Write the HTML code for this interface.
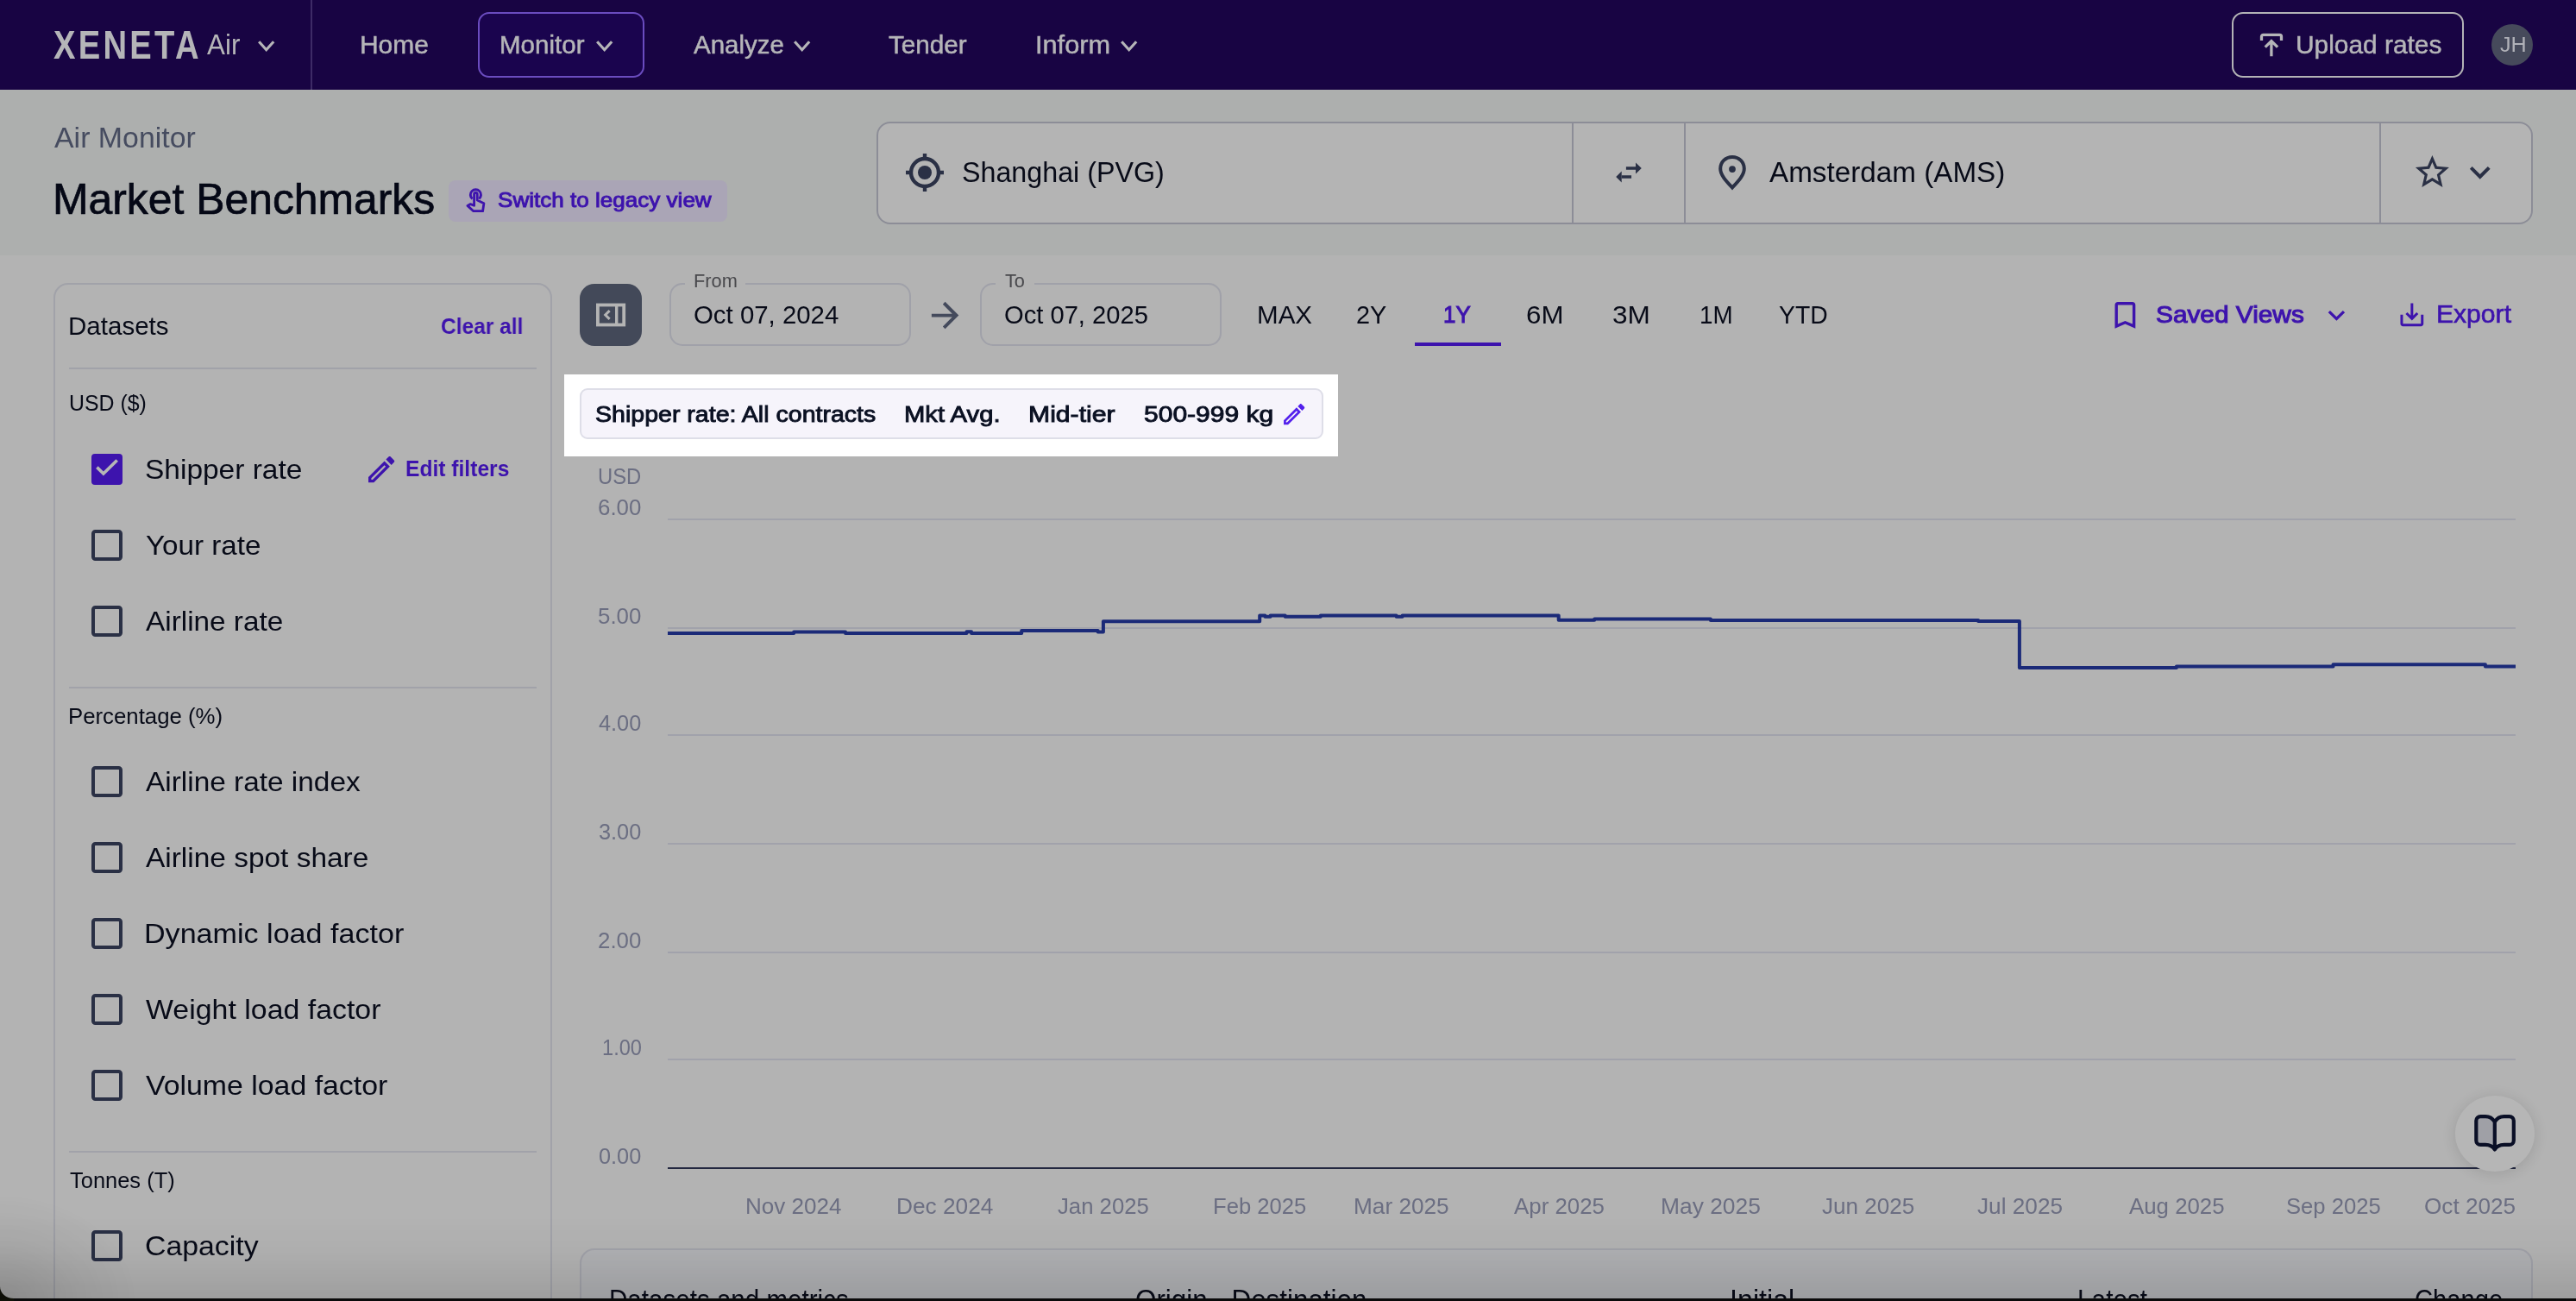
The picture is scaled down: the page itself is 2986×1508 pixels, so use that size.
<!DOCTYPE html>
<html lang="en"><head><meta charset="utf-8"><title>Xeneta Air - Market Benchmarks</title>
<style>
html,body{margin:0;padding:0;background:#b3b3b3;width:2986px;height:1508px;overflow:hidden;}
body{width:2986px;height:1508px;position:relative;overflow:hidden;font-family:"Liberation Sans",sans-serif;}
#app div,#app svg,#app span.t{position:absolute;box-sizing:border-box;}
#app{position:absolute;left:0;top:0;width:2986px;height:1508px;overflow:hidden;will-change:transform;}
#app nav,#app header,#app section,#app aside,#app main,#app footer{display:contents;}
#app span.t{line-height:1;white-space:nowrap;transform-origin:0 0;}
</style></head><body><div id="app">

<nav class="topbar"><div style="left:0px;top:0px;width:2986px;height:104px;background:#180443;"></div><div style="left:360px;top:0px;width:2px;height:104px;background:#3d2b66;"></div><span class="t" style="left:62.00px;top:29.00px;font-size:46.5px;color:#b5b5b8;font-weight:700;transform:scaleX(0.8212);letter-spacing:4px;">XENETA</span><span class="t" style="left:239.50px;top:35.50px;font-size:32.5px;color:#b5b5b8;transform:scaleX(0.9650);">Air</span><svg style="left:296.8px;top:45.05px" width="23.4" height="15.9" viewBox="0 0 23.4 15.9" fill="none"><path d="M3.2 3.2L11.7 12.7L20.2 3.2" stroke="#b5b5b8" stroke-width="3.2" stroke-linecap="butt" stroke-linejoin="miter"/></svg><span class="t" style="left:417.46px;top:37.00px;font-size:29.3px;color:#b5b5b8;transform:scaleX(1.0220);-webkit-text-stroke:0.5px #b5b5b8;">Home</span><div style="left:554px;top:14px;width:193px;height:76px;border:2px solid #6a4cbf;border-radius:13px;background:#1a044e;"></div><span class="t" style="left:578.78px;top:37.00px;font-size:29.3px;color:#b5b5b8;transform:scaleX(1.0080);-webkit-text-stroke:0.5px #b5b5b8;">Monitor</span><svg style="left:689.3px;top:45.05px" width="23.4" height="15.9" viewBox="0 0 23.4 15.9" fill="none"><path d="M3.2 3.2L11.7 12.7L20.2 3.2" stroke="#b5b5b8" stroke-width="3.2" stroke-linecap="butt" stroke-linejoin="miter"/></svg><span class="t" style="left:804.00px;top:37.00px;font-size:29.3px;color:#b5b5b8;transform:scaleX(1.0055);-webkit-text-stroke:0.5px #b5b5b8;">Analyze</span><svg style="left:917.5999999999999px;top:45.05px" width="23.4" height="15.9" viewBox="0 0 23.4 15.9" fill="none"><path d="M3.2 3.2L11.7 12.7L20.2 3.2" stroke="#b5b5b8" stroke-width="3.2" stroke-linecap="butt" stroke-linejoin="miter"/></svg><span class="t" style="left:1030.00px;top:37.00px;font-size:29.3px;color:#b5b5b8;transform:scaleX(1.0131);-webkit-text-stroke:0.5px #b5b5b8;">Tender</span><span class="t" style="left:1200.40px;top:37.00px;font-size:29.3px;color:#b5b5b8;transform:scaleX(1.0487);-webkit-text-stroke:0.5px #b5b5b8;">Inform</span><svg style="left:1296.7px;top:45.05px" width="23.4" height="15.9" viewBox="0 0 23.4 15.9" fill="none"><path d="M3.2 3.2L11.7 12.7L20.2 3.2" stroke="#b5b5b8" stroke-width="3.2" stroke-linecap="butt" stroke-linejoin="miter"/></svg><div style="left:2587px;top:14px;width:269px;height:76px;border:2px solid #b3b3b6;border-radius:13px;"></div><svg style="left:2618px;top:37px" width="30" height="30" viewBox="0 0 30 30" fill="none"><path d="M3.5 9.9V5.3a2 2 0 0 1 2-2H24.5a2 2 0 0 1 2 2V9.9M14.9 28.2V11M7.7 17.7L14.9 10.5L22.1 17.7" stroke="#b5b5b8" stroke-width="3.3"/></svg><span class="t" style="left:2660.76px;top:37.00px;font-size:29.3px;color:#b5b5b8;transform:scaleX(1.0198);-webkit-text-stroke:0.5px #b5b5b8;">Upload rates</span><div style="left:2888px;top:28px;width:48px;height:48px;border-radius:50%;background:#464a5b;"></div><span class="t" style="left:2897.50px;top:40.00px;font-size:24.5px;color:#b0b1b8;transform:scaleX(1.0265);">JH</span></nav>
<header class="page-header"><div style="left:0px;top:104px;width:2986px;height:192px;background:#adafae;"></div><span class="t" style="left:63.00px;top:144.20px;font-size:32.6px;color:#464c60;transform:scaleX(1.0403);">Air Monitor</span><span class="t" style="left:60.78px;top:207.30px;font-size:49.6px;color:#050816;transform:scaleX(1.0051);-webkit-text-stroke:0.7px #050816;">Market Benchmarks</span><div style="left:520px;top:209px;width:323px;height:48px;background:#aaa5b6;border-radius:8px;"></div><svg style="left:530px;top:208px" width="44" height="44" viewBox="0 0 44 44" fill="none"><path d="M17.5 22.5A6.1 6.1 0 1 1 25.3 22.5" stroke="#3d13ad" stroke-width="2.9"/><path d="M19.6 30.2V17.2a1.82 1.82 0 0 1 3.65 0V24L30.9 27.7L29.6 36.7H18.8L11.9 30.4L15.4 28.6Z" stroke="#3d13ad" stroke-width="2.8" stroke-linejoin="round"/></svg><span class="t" style="left:576.70px;top:220.10px;font-size:23.8px;color:#3d13ad;transform:scaleX(1.0952);-webkit-text-stroke:0.95px #3d13ad;">Switch to legacy view</span>
<section class="route-search"><div style="left:1016px;top:141px;width:1920px;height:119px;border:2px solid #8c8d97;border-radius:16px;background:#b4b4b4;"></div><div style="left:1822px;top:142px;width:2px;height:117px;background:#8c8d97;"></div><div style="left:1952px;top:142px;width:2px;height:117px;background:#8c8d97;"></div><div style="left:2758px;top:142px;width:2px;height:117px;background:#8c8d97;"></div><svg style="left:1048px;top:176px" width="48" height="48" viewBox="0 0 48 48" fill="none"><circle cx="24" cy="24" r="16" stroke="#2a3045" stroke-width="4.4"/><circle cx="24" cy="24" r="8" fill="#2a3045"/><path d="M24 2V9M24 39V46M2 24H9M39 24H46" stroke="#2a3045" stroke-width="4.4"/></svg><span class="t" style="left:1114.52px;top:184.20px;font-size:32.8px;color:#080b18;transform:scaleX(0.9831);">Shanghai (PVG)</span><svg style="left:1858px;top:175px" width="60" height="50" viewBox="0 0 60 50" fill="none"><path d="M26.9 18.25H38.4V21.7H26.9Z M38.05 13.45L44.8 20L38.05 26.5Z M21.5 28.25H33.05V31.7H21.5Z M21.7 23.45L15.2 30L21.7 36.5Z" fill="#2a3045"/></svg><svg style="left:1990px;top:178px" width="36" height="44" viewBox="0 0 36 44" fill="none"><path d="M18 4C10 4 4.2 10 4.2 17.5C4.2 25 11 32 18 39.5C25 32 31.8 25 31.8 17.5C31.8 10 26 4 18 4Z" stroke="#2a3045" stroke-width="4" stroke-linejoin="miter"/><circle cx="18" cy="18.1" r="3.9" fill="#2a3045"/></svg><span class="t" style="left:2051.30px;top:184.20px;font-size:32.8px;color:#080b18;transform:scaleX(1.0135);">Amsterdam (AMS)</span><svg style="left:2795.5px;top:176.4px" width="46.8" height="46.8" viewBox="0 0 24 24" fill="none"><path fill-rule="evenodd" d="M22 9.24l-7.19-.62L12 2 9.19 8.63 2 9.24l5.46 4.73L5.82 21 12 17.27 18.18 21l-1.63-7.03L22 9.24zM12 15.4l-3.76 2.27 1-4.28-3.32-2.88 4.38-.38L12 6.1l1.71 4.04 4.38.38-3.32 2.88 1 4.28L12 15.4z" fill="#2a3045"/></svg><svg style="left:2851.3px;top:176px" width="47.5" height="47.5" viewBox="0 0 24 24" fill="none"><path fill-rule="evenodd" d="M16.59 8.59L12 13.17 7.41 8.59 6 10l6 6 6-6z" fill="#2a3045"/></svg></section></header>
<section class="toolbar"><div style="left:672px;top:329px;width:72px;height:72px;background:#434959;border-radius:17px;"></div><svg style="left:688px;top:348px" width="40" height="34" viewBox="0 0 40 34" fill="none"><rect x="4.9" y="5.5" width="30.3" height="23" stroke="#b4b4b4" stroke-width="3.8"/><rect x="25" y="5.5" width="3.4" height="23" fill="#b4b4b4"/><path d="M18.6 12.1L13.7 17L18.6 21.9" stroke="#b4b4b4" stroke-width="3"/></svg><div style="left:776px;top:328px;width:280px;height:73px;border:2px solid #a0a1a9;border-radius:15px;"></div><div style="left:794px;top:326px;width:70px;height:6px;background:#b3b3b3;"></div><span class="t" style="left:804.01px;top:314.90px;font-size:22px;color:#48484c;transform:scaleX(0.9898);">From</span><span class="t" style="left:804.00px;top:349.60px;font-size:29.3px;color:#080b18;transform:scaleX(1.0032);">Oct 07, 2024</span><div style="left:1136px;top:328px;width:280px;height:73px;border:2px solid #a0a1a9;border-radius:15px;"></div><div style="left:1154px;top:326px;width:45px;height:6px;background:#b3b3b3;"></div><span class="t" style="left:1165.00px;top:314.90px;font-size:22px;color:#48484c;transform:scaleX(0.9870);">To</span><span class="t" style="left:1164.41px;top:349.60px;font-size:29.3px;color:#080b18;transform:scaleX(0.9948);">Oct 07, 2025</span><svg style="left:1072.3px;top:341.5px" width="47.2" height="47.2" viewBox="0 0 24 24" fill="none"><path fill-rule="evenodd" d="M12 4l-1.41 1.41L16.17 11H4v2h12.17l-5.58 5.59L12 20l8-8z" fill="#444a5c"/></svg><span class="t" style="left:1457.28px;top:349.60px;font-size:29.3px;color:#080b18;transform:scaleX(1.0091);">MAX</span><span class="t" style="left:1572.21px;top:349.60px;font-size:29.3px;color:#080b18;transform:scaleX(0.9856);">2Y</span><span class="t" style="left:1768.63px;top:349.60px;font-size:29.3px;color:#080b18;transform:scaleX(1.0672);">6M</span><span class="t" style="left:1868.52px;top:349.60px;font-size:29.3px;color:#080b18;transform:scaleX(1.0779);">3M</span><span class="t" style="left:1970.40px;top:349.60px;font-size:29.3px;color:#080b18;transform:scaleX(0.9478);">1M</span><span class="t" style="left:2062.40px;top:349.60px;font-size:29.3px;color:#080b18;transform:scaleX(0.9663);">YTD</span><span class="t" style="left:1672.87px;top:350.10px;font-size:28.3px;color:#3d13ad;transform:scaleX(0.9164);-webkit-text-stroke:1.1px #3d13ad;">1Y</span><div style="left:1640px;top:397px;width:100px;height:4px;background:#3d13ad;"></div><svg style="left:2442.5px;top:344.7px" width="40.8" height="40.8" viewBox="0 0 24 24" fill="none"><path fill-rule="evenodd" d="M17 3H7c-1.1 0-1.99.9-1.99 2L5 21l7-3 7 3V5c0-1.1-.9-2-2-2zm0 15l-5-2.18L7 18V5h10v13z" fill="#3d13ad"/></svg><span class="t" style="left:2498.95px;top:350.20px;font-size:28.3px;color:#3d13ad;transform:scaleX(1.0536);-webkit-text-stroke:1.1px #3d13ad;">Saved Views</span><svg style="left:2688.9px;top:345.8px" width="38.8" height="38.8" viewBox="0 0 24 24" fill="none"><path fill-rule="evenodd" d="M16.59 8.59L12 13.17 7.41 8.59 6 10l6 6 6-6z" fill="#3d13ad"/></svg><svg style="left:2778px;top:347.1px" width="35.7" height="35.7" viewBox="0 0 24 24" fill="none"><path fill-rule="evenodd" d="M19 12v7H5v-7H3v7c0 1.1.9 2 2 2h14c1.1 0 2-.9 2-2v-7h-2zm-6 .67l2.59-2.58L17 11.5l-5 5-5-5 1.41-1.41L11 12.67V3h2z" fill="#3d13ad"/></svg><span class="t" style="left:2824.21px;top:350.40px;font-size:28.8px;color:#3d13ad;transform:scaleX(1.0452);-webkit-text-stroke:0.6px #3d13ad;">Export</span></section>
<section class="spotlight-filters"><div style="left:654px;top:434px;width:897px;height:95px;background:#ffffff;"></div><div style="left:672px;top:450px;width:862px;height:59px;background:#f6f4fb;border:2px solid #dedee8;border-radius:9px;"></div><span class="t" style="left:689.51px;top:467.00px;font-size:26.2px;color:#0a1022;transform:scaleX(1.0902);-webkit-text-stroke:0.9px #0a1022;">Shipper rate: All contracts</span><span class="t" style="left:1048.37px;top:467.00px;font-size:26.2px;color:#0a1022;transform:scaleX(1.1162);-webkit-text-stroke:0.9px #0a1022;">Mkt Avg.</span><span class="t" style="left:1192.00px;top:467.00px;font-size:26.2px;color:#0a1022;transform:scaleX(1.1522);-webkit-text-stroke:0.9px #0a1022;">Mid-tier</span><span class="t" style="left:1326.35px;top:467.00px;font-size:26.2px;color:#0a1022;transform:scaleX(1.1465);-webkit-text-stroke:0.9px #0a1022;">500-999 kg</span><svg style="left:1483.9px;top:463.7px" width="32.3" height="32.3" viewBox="0 0 24 24" fill="none"><path fill-rule="evenodd" d="M14.06 9.02l.92.92L5.92 19H5v-.92l9.06-9.06M17.66 3c-.25 0-.51.1-.7.29l-1.83 1.83 3.75 3.75 1.83-1.83c.39-.39.39-1.02 0-1.41l-2.34-2.34c-.2-.2-.45-.29-.71-.29zm-3.6 3.19L3 17.25V21h3.75L17.81 9.94l-3.75-3.75z" fill="#5320ec"/></svg></section>
<aside class="datasets-panel"><div style="left:62px;top:328px;width:578px;height:1300px;border:2px solid #a1a2a9;border-radius:17px;"></div><span class="t" style="left:78.88px;top:362.70px;font-size:29.3px;color:#080b18;transform:scaleX(1.0083);">Datasets</span><span class="t" style="left:510.73px;top:365.50px;font-size:25.2px;color:#3d13ad;font-weight:700;transform:scaleX(0.9728);">Clear all</span><div style="left:80px;top:426px;width:542px;height:2px;background:#a1a2a9;"></div><div style="left:80px;top:796px;width:542px;height:2px;background:#a1a2a9;"></div><div style="left:80px;top:1334px;width:542px;height:2px;background:#a1a2a9;"></div><span class="t" style="left:80.42px;top:455.00px;font-size:25.4px;color:#080b18;transform:scaleX(0.9794);">USD ($)</span><span class="t" style="left:78.57px;top:818.30px;font-size:25.4px;color:#080b18;transform:scaleX(1.0153);">Percentage (%)</span><span class="t" style="left:80.80px;top:1355.80px;font-size:25.4px;color:#080b18;transform:scaleX(1.0026);">Tonnes (T)</span><div style="left:106px;top:526px;width:36px;height:36px;background:#3d13ad;border-radius:4px;"></div><svg style="left:106px;top:526px" width="36" height="36" viewBox="0 0 36 36" fill="none"><path d="M6.4 15.7L13.9 23L29.7 7.5" stroke="#b6b6b6" stroke-width="3.7"/></svg><span class="t" style="left:168.13px;top:528.80px;font-size:31.4px;color:#080b18;transform:scaleX(1.0663);">Shipper rate</span><div style="left:106px;top:614px;width:36px;height:36px;border:4.4px solid #2a3045;border-radius:4.5px;"></div><span class="t" style="left:169.20px;top:616.80px;font-size:31.4px;color:#080b18;transform:scaleX(1.0574);">Your rate</span><div style="left:106px;top:702px;width:36px;height:36px;border:4.4px solid #2a3045;border-radius:4.5px;"></div><span class="t" style="left:169.20px;top:704.80px;font-size:31.4px;color:#080b18;transform:scaleX(1.0616);">Airline rate</span><div style="left:106px;top:888px;width:36px;height:36px;border:4.4px solid #2a3045;border-radius:4.5px;"></div><span class="t" style="left:169.20px;top:890.80px;font-size:31.4px;color:#080b18;transform:scaleX(1.0636);">Airline rate index</span><div style="left:106px;top:976px;width:36px;height:36px;border:4.4px solid #2a3045;border-radius:4.5px;"></div><span class="t" style="left:169.20px;top:978.80px;font-size:31.4px;color:#080b18;transform:scaleX(1.0650);">Airline spot share</span><div style="left:106px;top:1064px;width:36px;height:36px;border:4.4px solid #2a3045;border-radius:4.5px;"></div><span class="t" style="left:167.03px;top:1066.80px;font-size:31.4px;color:#080b18;transform:scaleX(1.0860);">Dynamic load factor</span><div style="left:106px;top:1152px;width:36px;height:36px;border:4.4px solid #2a3045;border-radius:4.5px;"></div><span class="t" style="left:169.20px;top:1154.80px;font-size:31.4px;color:#080b18;transform:scaleX(1.0795);">Weight load factor</span><div style="left:106px;top:1240px;width:36px;height:36px;border:4.4px solid #2a3045;border-radius:4.5px;"></div><span class="t" style="left:169.20px;top:1242.80px;font-size:31.4px;color:#080b18;transform:scaleX(1.0780);">Volume load factor</span><div style="left:106px;top:1426px;width:36px;height:36px;border:4.4px solid #2a3045;border-radius:4.5px;"></div><span class="t" style="left:168.12px;top:1428.80px;font-size:31.4px;color:#080b18;transform:scaleX(1.0771);">Capacity</span><svg style="left:421.8px;top:523.8px" width="40.3" height="40.3" viewBox="0 0 24 24" fill="none"><path fill-rule="evenodd" d="M14.06 9.02l.92.92L5.92 19H5v-.92l9.06-9.06M17.66 3c-.25 0-.51.1-.7.29l-1.83 1.83 3.75 3.75 1.83-1.83c.39-.39.39-1.02 0-1.41l-2.34-2.34c-.2-.2-.45-.29-.71-.29zm-3.6 3.19L3 17.25V21h3.75L17.81 9.94l-3.75-3.75z" fill="#3d13ad"/></svg><span class="t" style="left:469.82px;top:530.70px;font-size:25.2px;color:#3d13ad;font-weight:700;transform:scaleX(0.9773);">Edit filters</span></aside>
<main class="chart"><span class="t" style="left:693.35px;top:539.80px;font-size:25.1px;color:#6b6e82;transform:scaleX(0.9497);">USD</span><span class="t" style="left:694.30px;top:1328.30px;font-size:25.1px;color:#6b6e82;transform:scaleX(1.0087);">0.00</span><div style="left:774px;top:1227px;width:2142px;height:2px;background:#a1a2ab;"></div><span class="t" style="left:697.56px;top:1202.30px;font-size:25.1px;color:#6b6e82;transform:scaleX(0.9406);">1.00</span><div style="left:774px;top:1103px;width:2142px;height:2px;background:#a1a2ab;"></div><span class="t" style="left:693.27px;top:1078.30px;font-size:25.1px;color:#6b6e82;transform:scaleX(1.0302);">2.00</span><div style="left:774px;top:977px;width:2142px;height:2px;background:#a1a2ab;"></div><span class="t" style="left:694.30px;top:952.30px;font-size:25.1px;color:#6b6e82;transform:scaleX(1.0087);">3.00</span><div style="left:774px;top:851px;width:2142px;height:2px;background:#a1a2ab;"></div><span class="t" style="left:694.30px;top:826.30px;font-size:25.1px;color:#6b6e82;transform:scaleX(1.0087);">4.00</span><div style="left:774px;top:727px;width:2142px;height:2px;background:#a1a2ab;"></div><span class="t" style="left:693.27px;top:702.30px;font-size:25.1px;color:#6b6e82;transform:scaleX(1.0302);">5.00</span><div style="left:774px;top:601px;width:2142px;height:2px;background:#a1a2ab;"></div><span class="t" style="left:693.27px;top:576.30px;font-size:25.1px;color:#6b6e82;transform:scaleX(1.0302);">6.00</span><div style="left:774px;top:1353px;width:2142px;height:2px;background:#232840;"></div><span class="t" style="left:863.67px;top:1386.30px;font-size:25.1px;color:#6b6e82;transform:scaleX(1.0383);">Nov 2024</span><span class="t" style="left:1039.21px;top:1386.30px;font-size:25.1px;color:#6b6e82;transform:scaleX(1.0468);">Dec 2024</span><span class="t" style="left:1226.20px;top:1386.30px;font-size:25.1px;color:#6b6e82;transform:scaleX(1.0245);">Jan 2025</span><span class="t" style="left:1405.81px;top:1386.30px;font-size:25.1px;color:#6b6e82;transform:scaleX(1.0215);">Feb 2025</span><span class="t" style="left:1568.91px;top:1386.30px;font-size:25.1px;color:#6b6e82;transform:scaleX(1.0441);">Mar 2025</span><span class="t" style="left:1755.00px;top:1386.30px;font-size:25.1px;color:#6b6e82;transform:scaleX(1.0308);">Apr 2025</span><span class="t" style="left:1924.50px;top:1386.30px;font-size:25.1px;color:#6b6e82;transform:scaleX(1.0518);">May 2025</span><span class="t" style="left:2111.75px;top:1386.30px;font-size:25.1px;color:#6b6e82;transform:scaleX(1.0391);">Jun 2025</span><span class="t" style="left:2291.75px;top:1386.30px;font-size:25.1px;color:#6b6e82;transform:scaleX(1.0445);">Jul 2025</span><span class="t" style="left:2468.00px;top:1386.30px;font-size:25.1px;color:#6b6e82;transform:scaleX(1.0292);">Aug 2025</span><span class="t" style="left:2649.78px;top:1386.30px;font-size:25.1px;color:#6b6e82;transform:scaleX(1.0219);">Sep 2025</span><span class="t" style="left:2809.91px;top:1386.30px;font-size:25.1px;color:#6b6e82;transform:scaleX(1.0423);">Oct 2025</span><svg style="left:774px;top:700px" width="2142" height="90" viewBox="0 0 2142 90" fill="none"><path d="M0.0 34.00L146.2 34.00L146.2 32.60L206.0 32.60L206.0 34.00L346.5 34.00L346.5 32.30L352.0 32.30L352.0 34.00L410.2 34.00L410.2 31.05L498.7 31.05L498.7 32.60L504.9 32.60L504.9 20.20L686.2 20.20L686.2 13.60L692.4 13.60L692.4 14.80L698.6 14.80L698.6 13.60L715.7 13.60L715.7 14.80L756.8 14.80L756.8 13.60L844.6 13.60L844.6 14.80L851.6 14.80L851.6 13.60L1032.7 13.60L1032.7 18.80L1074.2 18.80L1074.2 17.50L1208.9 17.50L1208.9 18.90L1519.1 18.90L1519.1 20.00L1566.9 20.00L1566.9 74.00L1748.9 74.00L1748.9 72.60L1930.5 72.60L1930.5 70.30L2106.9 70.30L2106.9 72.60L2142.0 72.60" stroke="#1b2a78" stroke-width="4" stroke-linejoin="round"/></svg></main>
<section class="metrics-table"><div style="left:672px;top:1447px;width:2264px;height:120px;border:2px solid #a1a2a9;border-radius:17px;background:#b0b1b4;"></div><span class="t" style="left:706.13px;top:1489.50px;font-size:33.4px;color:#080b18;transform:scaleX(0.8854);">Datasets and metrics</span><span class="t" style="left:1316.06px;top:1489.50px;font-size:33.4px;color:#080b18;transform:scaleX(0.9392);">Origin - Destination</span><span class="t" style="left:2005.10px;top:1489.50px;font-size:33.4px;color:#080b18;transform:scaleX(0.9656);">Initial</span><span class="t" style="left:2408.22px;top:1489.50px;font-size:33.4px;color:#080b18;transform:scaleX(0.8920);">Latest</span><span class="t" style="left:2799.12px;top:1489.50px;font-size:33.4px;color:#080b18;transform:scaleX(0.8753);">Change</span></section>
<section class="help-button"><div style="left:2846px;top:1269.8px;width:92px;height:88px;border-radius:50%;background:#b6b6b6;box-shadow:0 2px 14px 3px rgba(0,0,0,0.09);"></div><svg style="left:2864px;top:1288px" width="56" height="52" viewBox="0 0 56 52" fill="none"><path d="M27.8 12.5C25.5 8.5 22 6.1 17 6.1H11.3a5 5 0 0 0-5 5V33.9a5 5 0 0 0 5 5H17C22 38.9 25.5 40.5 27.8 44.5Z" fill="#9fa0a6"/><path d="M27.8 12.5C25.5 8.5 22 6.1 17 6.1H11.3a5 5 0 0 0-5 5V33.9a5 5 0 0 0 5 5H17C22 38.9 25.5 40.5 27.8 44.5C30.1 40.5 33.6 38.9 38.6 38.9H44.8a5 5 0 0 0 5-5V11.1a5 5 0 0 0-5-5H38.6C33.6 6.1 30.1 8.5 27.8 12.5ZM27.8 12.5V44" stroke="#0a0f26" stroke-width="4.2" stroke-linejoin="round"/></svg></section>
<footer class="window-edge"><div style="left:0px;top:1410px;width:2986px;height:96px;background:linear-gradient(to bottom,rgba(0,0,0,0) 0%,rgba(0,0,0,0.025) 40%,rgba(0,0,0,0.115) 100%);"></div><div style="left:0px;top:1505px;width:2986px;height:3px;background:#0a0a0a;"></div><svg style="left:0px;top:1480px" width="28" height="28" viewBox="0 0 28 28" fill="none"><path d="M0 11V28H16V25C7 25 0 19 0 11Z" fill="#101208"/></svg><div style="left:0px;top:1376px;width:170px;height:130px;background:radial-gradient(ellipse at 0% 100%,rgba(0,0,0,0.13) 0%,rgba(0,0,0,0.045) 38%,rgba(0,0,0,0) 66%);"></div></footer>
</div></body></html>
